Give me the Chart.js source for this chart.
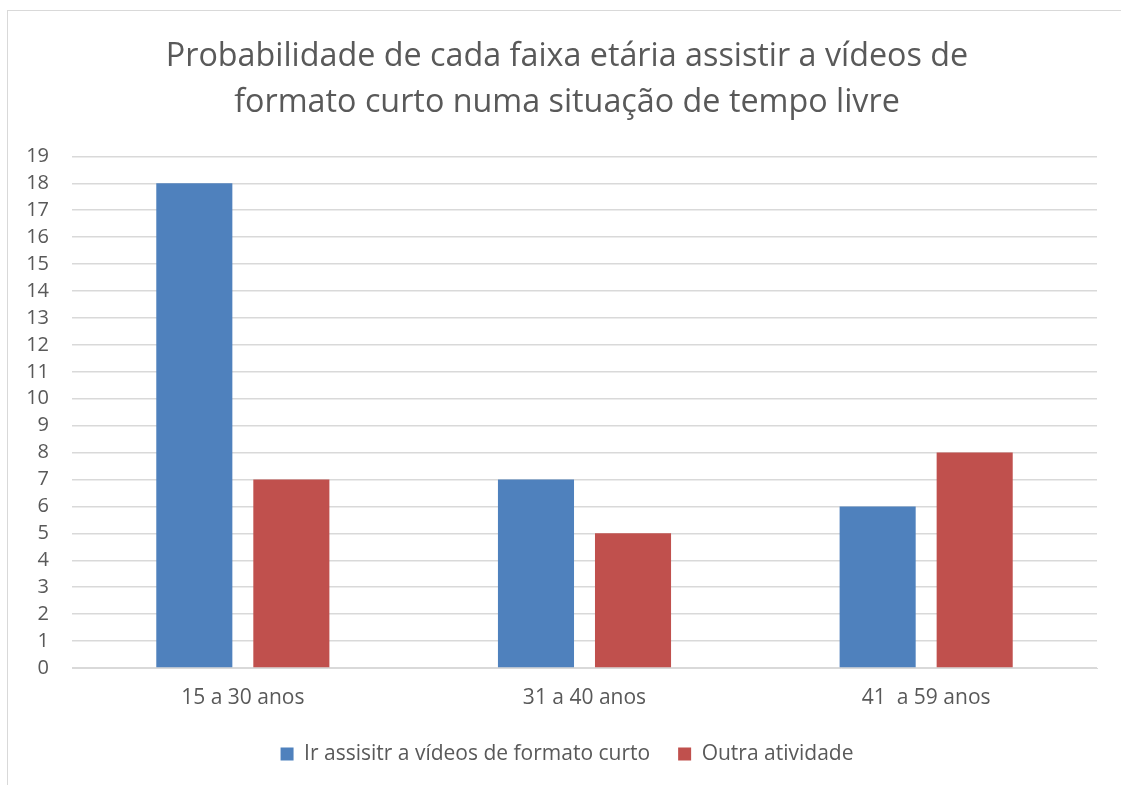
<!DOCTYPE html>
<html>
<head>
<meta charset="utf-8">
<script src="https://cdn.jsdelivr.net/npm/chart.js@4"></script>
<style>
  html, body { margin: 0; padding: 0; background: #fff; overflow: hidden; }
  #frame {
    position: absolute; left: 7px; top: 10px; width: 1200px; height: 900px;
    border-left: 1.5px solid #d9d9d9; border-top: 1.5px solid #d9d9d9;
  }
  #wrap { position: absolute; left: 0; top: 0; width: 1134px; height: 785px; }
</style>
</head>
<body>
<div id="frame"></div>
<div id="wrap"><canvas id="chart" width="1134" height="785"></canvas></div>
<script>
// age groups and answers
const faixas = ["15 a 30 anos", "31 a 40 anos", "41  a 59 anos"];
const videosCurtos = [18, 7, 6];
const outraAtividade = [7, 5, 8];
const yTicks = Array.from({ length: 20 }, (_, i) => i);

const textColor = "#595959";
const fontFamily = "'Open Sans', sans-serif";

const ctx = document.getElementById("chart").getContext("2d");
const chart = new Chart(ctx, {
  type: "bar",
  data: {
    labels: faixas,
    datasets: [
      {
        label: "Ir assisitr a vídeos de formato curto",
        data: videosCurtos,
        backgroundColor: "#4F81BD",
      },
      {
        label: "Outra atividade",
        data: outraAtividade,
        backgroundColor: "#C0504D",
      },
    ],
  },
  options: {
    responsive: false,
    animation: false,
    layout: { padding: { left: 0, right: 0, top: 0, bottom: 10.5 } },
    categoryPercentage: 0.568,
    barPercentage: 0.784,
    plugins: {
      tooltip: { enabled: false },
      title: {
        display: true,
        text: [
          "Probabilidade de cada faixa etária assistir a vídeos de",
          "formato curto numa situação de tempo livre",
        ],
        color: textColor,
        font: { family: fontFamily, size: 32.3, weight: "normal", lineHeight: 1.43 },
        padding: { top: 34, bottom: 30 },
      },
      legend: {
        position: "bottom",
        labels: {
          color: textColor,
          font: { family: fontFamily, size: 21 },
          boxWidth: 13,
          boxHeight: 13,
          padding: 28,
        },
      },
    },
    scales: {
      x: {
        afterFit: (axis) => {
          axis.height = 47.5;
        },
        grid: { display: false, drawTicks: false },
        border: { color: "#d9d9d9" },
        ticks: { color: textColor, font: { family: fontFamily, size: 21 }, padding: 17 },
      },
      y: {
        min: 0,
        max: 19,
        afterBuildTicks: (axis) => {
          axis.ticks = yTicks.map((v) => ({ value: v }));
        },
        afterFit: (axis) => {
          axis.width = 72;
        },
        grid: { color: "#d9d9d9", lineWidth: 1.5, drawTicks: false },
        border: { display: false },
        ticks: {
          color: textColor,
          font: { family: fontFamily, size: 20 },
          padding: 23,
          autoSkip: false,
        },
      },
      // empty right margin so title and legend sit centred on the frame
      spacer: {
        type: "linear",
        position: "right",
        afterFit: (axis) => {
          axis.width = 37;
        },
        grid: { display: false },
        border: { display: false },
        ticks: { display: false },
      },
    },
  },
});
</script>
</body>
</html>
